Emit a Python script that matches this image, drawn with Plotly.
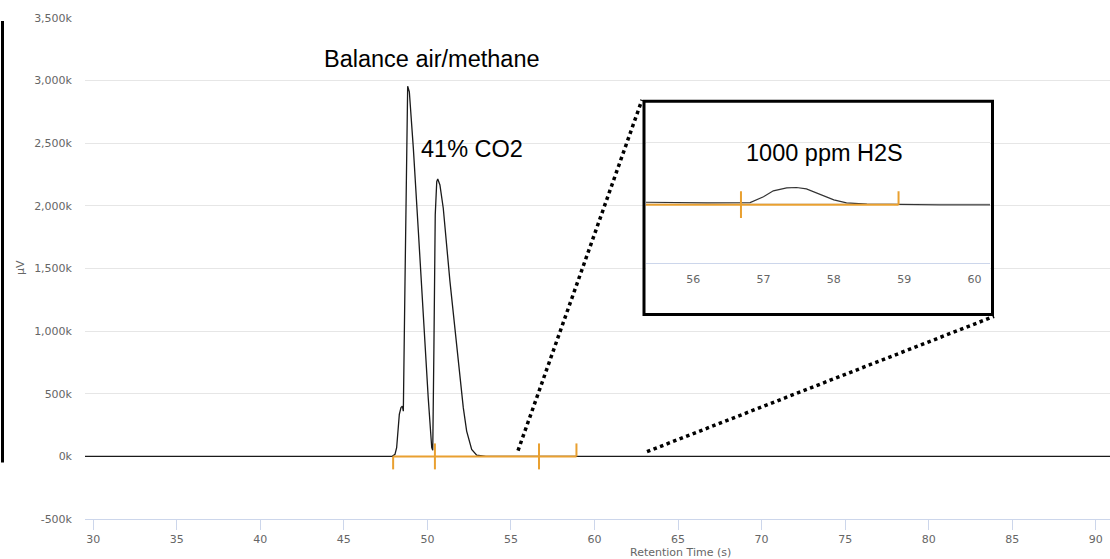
import plotly.graph_objects as go

# ---------------- data ----------------
time_s = [29.5, 40.0, 47.9, 48.06, 48.16, 48.32, 48.42, 48.50, 48.56, 48.66,
          48.76, 48.82, 48.92, 49.16, 49.46, 49.75, 50.05, 50.26, 50.32, 50.39,
          50.47, 50.56, 50.62, 50.75, 50.95, 51.35, 51.85, 52.15, 52.35, 52.65,
          52.95, 53.5, 55.33, 56.2, 56.7, 56.81, 57.0, 57.14, 57.33, 57.47,
          57.61, 57.80, 58.0, 58.18, 58.47, 59.5, 60.3, 75.0, 90.9]
signal_uv = [0, 0, 0, 16000, 69000, 335000, 390000, 401000, 361000, 1397000,
             2725000, 2955000, 2911000, 2459000, 1795000, 1131000, 467000, 69000, 48000, 865000,
             1928000, 2194000, 2215000, 2167000, 1981000, 1397000, 733000, 387000, 202000, 56000,
             10000, 0, 150, 50, 0, 100, 1050, 2040, 2540, 2600,
             2370, 1490, 550, 50, -170, -280, -330, -300, -300]

# integration boundaries (s) and which side of the baseline each tick is drawn
int_bounds = [47.95, 50.45, 56.68, 58.92]
tick_down = [True, True, True, False]
tick_up = [False, True, True, True]
int_level = -250

y_tickvals = [-500000, 0, 500000, 1000000, 1500000, 2000000, 2500000, 3000000, 3500000]
y_ticktext = ["-500k", "0k", "500k", "1,000k", "1,500k", "2,000k", "2,500k", "3,000k", "3,500k"]
x_tickvals = [30, 35, 40, 45, 50, 55, 60, 65, 70, 75, 80, 85, 90]
inset_x_tickvals = [56, 57, 58, 59, 60]
inset_y_gridvals = [-10000, 0, 10000]

labels = ["Balance air/methane", "41% CO2", "1000 ppm H2S"]

# ---------------- geometry helpers ----------------
W, H = 1110, 559
L, R, T, B = 85, 0, 17.5, 39.5
PW, PH = W - L - R, H - T - B


def px(x):
    return (x - L) / PW


def py(y):
    return (H - B - y) / PH


main_yrange = [-500000, 3500000]
main_xrange = [29.51, 90.85]
inset_xrange = [55.33, 60.22]
inset_yrange = [-18242, 16584]

h_main = 13 * (main_yrange[1] - main_yrange[0]) / PH
inset_ppu = (py(103) - py(313)) * PH / (inset_yrange[1] - inset_yrange[0])
h_inset = 13.3 / inset_ppu


def integration_segments(h):
    xs = [int_bounds[0], int_bounds[-1], None]
    ys = [int_level, int_level, None]
    for b, d, u in zip(int_bounds, tick_down, tick_up):
        xs += [b, b, None]
        ys += [int_level - (h if d else 0), int_level + (h if u else 0), None]
    return xs, ys


TRACE = "#1a1a1a"
ORANGE = "#e9a030"
GRID = "#e6e6e6"
AXIS = "#ccd6eb"
LABEL = "#666666"
FONT = "DejaVu Sans"

fig = go.Figure()
fig.add_trace(go.Scatter(x=time_s, y=signal_uv, mode="lines",
                         line=dict(color=TRACE, width=1.3), xaxis="x", yaxis="y",
                         hoverinfo="skip"))
mx, my = integration_segments(h_main)
fig.add_trace(go.Scatter(x=mx, y=my, mode="lines", line=dict(color=ORANGE, width=2),
                         xaxis="x", yaxis="y", hoverinfo="skip"))
fig.add_trace(go.Scatter(x=time_s, y=signal_uv, mode="lines",
                         line=dict(color="#333333", width=1.2), xaxis="x2", yaxis="y2",
                         hoverinfo="skip"))
ix, iy = integration_segments(h_inset)
fig.add_trace(go.Scatter(x=ix, y=iy, mode="lines", line=dict(color=ORANGE, width=2),
                         xaxis="x2", yaxis="y2", hoverinfo="skip"))

tick_font = dict(family=FONT, size=11, color=LABEL)

fig.update_layout(
    width=W, height=H, showlegend=False,
    margin=dict(l=L, r=R, t=T, b=B, autoexpand=False),
    paper_bgcolor="white", plot_bgcolor="white",
    xaxis=dict(domain=[0, 1], range=main_xrange, tickvals=x_tickvals,
               showgrid=False, zeroline=False, showline=True, linecolor=AXIS, linewidth=1,
               ticks="outside", ticklen=10, tickcolor=AXIS, tickfont=tick_font,
               anchor="y"),
    yaxis=dict(domain=[0, 1], range=main_yrange, tickvals=y_tickvals, ticktext=y_ticktext,
               showgrid=True, gridcolor=GRID, gridwidth=1, zeroline=False, showline=False,
               ticks="", tickfont=tick_font, ticklabelstandoff=12, anchor="x"),
    xaxis2=dict(domain=[px(646), px(990)], range=inset_xrange, tickvals=inset_x_tickvals,
                showgrid=False, zeroline=False, showline=True, linecolor=AXIS, linewidth=1,
                ticks="", tickfont=tick_font, anchor="free", position=py(263.3),
                ticklabelstandoff=5),
    yaxis2=dict(domain=[py(313), py(103)], range=inset_yrange, tickvals=inset_y_gridvals,
                showticklabels=False, showgrid=True, gridcolor=GRID, zeroline=False,
                showline=False, ticks="", anchor="x2"),
)

text_font = dict(family="Liberation Sans, Arial", size=23.5, color="black")
fig.add_annotation(x=50.28, y=3174000, xref="x", yref="y", text=labels[0],
                   showarrow=False, font=text_font, xanchor="center", yanchor="middle")
fig.add_annotation(x=52.67, y=2457000, xref="x", yref="y", text=labels[1],
                   showarrow=False, font=text_font, xanchor="center", yanchor="middle")
fig.add_annotation(x=57.87, y=8300, xref="x2", yref="y2", text=labels[2],
                   showarrow=False, font=text_font, xanchor="center", yanchor="middle")

fig.add_annotation(x=px(680), y=py(553), xref="paper", yref="paper",
                   text="Retention Time (s)", showarrow=False,
                   xanchor="center", yanchor="middle",
                   font=dict(family=FONT, size=11, color=LABEL))
fig.add_annotation(x=px(20), y=py(268), xref="paper", yref="paper",
                   text="µV", textangle=-90, showarrow=False,
                   xanchor="center", yanchor="middle",
                   font=dict(family=FONT, size=11, color=LABEL))

# inset frame, zoom guides and left bar
fig.add_shape(type="rect", xref="paper", yref="paper",
              x0=px(644), x1=px(992.5), y0=py(314.5), y1=py(101),
              line=dict(color="black", width=3), layer="above")
fig.add_shape(type="line", xref="paper", yref="paper",
              x0=px(518), y0=py(451), x1=px(642), y1=py(99.5),
              line=dict(color="black", width=3.5, dash="3.5px,3.5px"), layer="above")
fig.add_shape(type="line", xref="paper", yref="paper",
              x0=px(647), y0=py(452), x1=px(994), y1=py(316.5),
              line=dict(color="black", width=3.5, dash="3.5px,3.5px"), layer="above")
fig.add_shape(type="rect", xref="paper", yref="paper",
              x0=px(1), x1=px(4), y0=py(463), y1=py(20.5),
              line=dict(width=0), fillcolor="black", layer="above")

fig.write_html("out.html", config={"displayModeBar": False},
               post_script="document.body.style.margin='0';document.body.style.overflow='hidden';")
